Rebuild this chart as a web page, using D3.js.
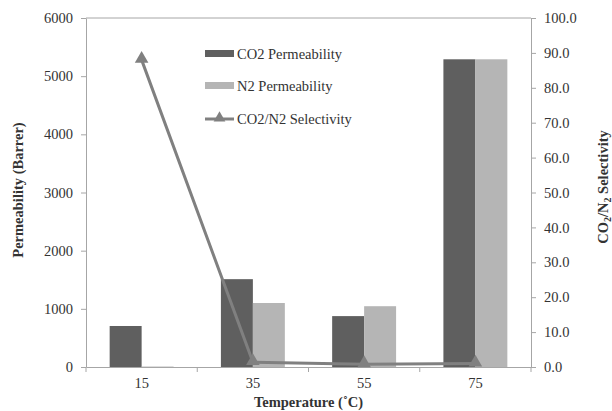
<!DOCTYPE html>
<html>
<head>
<meta charset="utf-8">
<script src="https://cdn.jsdelivr.net/npm/d3@7"></script>
<style>
  body { margin: 0; background: #fff; }
  svg { display: block; }
  text { font-family: "Liberation Serif", "Times New Roman", serif; fill: #333; }
</style>
</head>
<body>
<svg id="chart" width="612" height="411"></svg>
<script>
// Membrane permeability and selectivity by temperature
const temperatures = ["15", "35", "55", "75"];
const co2Permeability = [705, 1510, 875, 5290];
const n2Permeability = [8, 1100, 1045, 5290];
const selectivity = [88.0, 1.4, 0.8, 1.0];
const leftTicks = [0, 1000, 2000, 3000, 4000, 5000, 6000];
const rightTicks = [0, 10, 20, 30, 40, 50, 60, 70, 80, 90, 100];

const colors = { co2: "#5f5f5f", n2: "#b5b5b5", sel: "#808080", axis: "#a6a6a6" };
const fontSize = 14.5;

const svg = d3.select("#chart");
const m = { left: 86, right: 531, top: 18, bottom: 367 };

const x = d3.scaleBand().domain(temperatures).range([m.left, m.right]);
const inner = d3.scaleBand().domain(["co2", "n2"]).range([0, x.bandwidth()]).paddingInner(0).paddingOuter(0.74);
const yL = d3.scaleLinear().domain([0, 6000]).range([m.bottom, m.top]);
const yR = d3.scaleLinear().domain([0, 100]).range([m.bottom, m.top]);

// plot border (top)
svg.append("line").attr("x1", m.left).attr("x2", m.right).attr("y1", m.top).attr("y2", m.top)
  .attr("stroke", colors.axis).attr("stroke-width", 1);

// bars
const groups = svg.append("g").selectAll("g").data(temperatures).join("g")
  .attr("transform", d => `translate(${x(d)},0)`);
groups.append("rect")
  .attr("x", inner("co2")).attr("width", inner.bandwidth())
  .attr("y", (d, i) => yL(co2Permeability[i]))
  .attr("height", (d, i) => yL(0) - yL(co2Permeability[i]))
  .attr("fill", colors.co2);
groups.append("rect")
  .attr("x", inner("n2")).attr("width", inner.bandwidth())
  .attr("y", (d, i) => yL(n2Permeability[i]))
  .attr("height", (d, i) => yL(0) - yL(n2Permeability[i]))
  .attr("fill", colors.n2);

// axes
function styleAxis(g) {
  g.attr("font-family", null).attr("font-size", null);
  g.selectAll(".domain, .tick line").attr("stroke", colors.axis);
  g.selectAll(".tick text").attr("fill", "#333").attr("font-size", fontSize);
}
svg.append("g").attr("transform", `translate(${m.left},0)`)
  .call(d3.axisLeft(yL).tickValues(leftTicks).tickFormat(d3.format("d")).tickSize(5).tickSizeOuter(0).tickPadding(8))
  .call(styleAxis);
svg.append("g").attr("transform", `translate(${m.right},0)`)
  .call(d3.axisRight(yR).tickValues(rightTicks).tickFormat(d3.format(".1f")).tickSize(5).tickSizeOuter(0).tickPadding(8))
  .call(styleAxis);
const xAxis = svg.append("g").attr("transform", `translate(0,${m.bottom})`)
  .call(d3.axisBottom(x).tickSize(0).tickPadding(11))
  .call(styleAxis);
// category separators on the x axis
xAxis.selectAll(".sep").data(d3.range(temperatures.length + 1)).join("line")
  .attr("x1", i => m.left + i * x.step()).attr("x2", i => m.left + i * x.step())
  .attr("y1", 0).attr("y2", 5).attr("stroke", colors.axis);

// selectivity line with triangle markers
const pts = selectivity.map((v, i) => [x(temperatures[i]) + x.bandwidth() / 2, yR(v)]);
svg.append("path").datum(pts).attr("d", d3.line())
  .attr("fill", "none").attr("stroke", colors.sel).attr("stroke-width", 3);
const tri = d3.symbol().type(d3.symbolTriangle).size(80);
svg.append("g").selectAll("path").data(pts).join("path")
  .attr("transform", d => `translate(${d[0]},${d[1] - 1})`)
  .attr("d", tri).attr("fill", colors.sel);

// axis titles
svg.append("text").attr("transform", `translate(23,190) rotate(-90)`)
  .attr("text-anchor", "middle").attr("font-weight", "bold").attr("font-size", fontSize)
  .attr("fill", "#222").text("Permeability (Barrer)");
svg.append("text").attr("x", (m.left + m.right) / 2).attr("y", 407)
  .attr("text-anchor", "middle").attr("font-weight", "bold").attr("font-size", fontSize)
  .attr("fill", "#222").text("Temperature (˚C)");
const rt = svg.append("text").attr("transform", `translate(608,187) rotate(-90)`)
  .attr("text-anchor", "middle").attr("font-weight", "bold").attr("font-size", fontSize).attr("fill", "#222");
rt.append("tspan").text("CO");
rt.append("tspan").attr("font-size", 10).attr("dy", 3).text("2");
rt.append("tspan").attr("dy", -3).text("/N");
rt.append("tspan").attr("font-size", 10).attr("dy", 3).text("2");
rt.append("tspan").attr("dy", -3).text(" Selectivity");

// legend
const legend = svg.append("g").attr("transform", "translate(205,0)");
const items = [
  { label: "CO2 Permeability", type: "bar", color: colors.co2, y: 54 },
  { label: "N2 Permeability", type: "bar", color: colors.n2, y: 86 },
  { label: "CO2/N2 Selectivity", type: "line", color: colors.sel, y: 119 }
];
items.forEach(it => {
  if (it.type === "bar") {
    legend.append("rect").attr("x", 0).attr("y", it.y - 4).attr("width", 29).attr("height", 7).attr("fill", it.color);
  } else {
    legend.append("line").attr("x1", 0).attr("x2", 29).attr("y1", it.y).attr("y2", it.y)
      .attr("stroke", it.color).attr("stroke-width", 3);
    legend.append("path").attr("transform", `translate(14.5,${it.y - 1})`)
      .attr("d", d3.symbol().type(d3.symbolTriangle).size(60)).attr("fill", it.color);
  }
  legend.append("text").attr("x", 32).attr("y", it.y + 5).attr("font-size", fontSize).attr("fill", "#333").text(it.label);
});
</script>
</body>
</html>
